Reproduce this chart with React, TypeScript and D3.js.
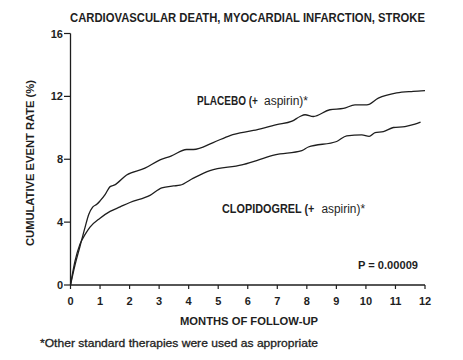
import React from "react";
import * as d3 from "d3";

const placeboMonths = [0, 0.15, 0.32, 0.49, 0.62, 0.75, 0.9, 1.0, 1.17, 1.34, 1.5, 1.9, 2.52, 3.03, 3.4, 3.93, 4.16, 4.83, 5.4, 6.19, 6.98, 7.5, 7.77, 7.94, 8.22, 8.78, 9.24, 9.63, 10.03, 10.42, 11.04, 11.6, 12.0];
const placeboRates = [0, 1.25, 2.45, 3.65, 4.5, 4.95, 5.15, 5.35, 5.75, 6.26, 6.37, 7.0, 7.43, 7.96, 8.2, 8.62, 8.62, 9.06, 9.51, 9.83, 10.2, 10.42, 10.72, 10.83, 10.72, 11.15, 11.23, 11.46, 11.46, 11.89, 12.22, 12.32, 12.37];

const clopMonths = [0, 0.15, 0.32, 0.49, 0.66, 1.0, 1.34, 1.68, 2.01, 2.69, 3.09, 3.48, 3.71, 4.16, 4.72, 5.8, 6.3, 6.92, 7.83, 8.05, 9.01, 9.35, 9.86, 10.11, 10.31, 10.59, 10.93, 11.32, 11.66, 11.85];
const clopRates = [0, 1.5, 2.6, 3.2, 3.68, 4.25, 4.68, 4.97, 5.25, 5.7, 6.18, 6.3, 6.35, 6.8, 7.28, 7.64, 7.92, 8.28, 8.55, 8.78, 9.13, 9.49, 9.55, 9.45, 9.7, 9.76, 10.02, 10.08, 10.23, 10.36];

const xTicks = [0, 1, 2, 3, 4, 5, 6, 7, 8, 9, 10, 11, 12];
const yTicks = [0, 4, 8, 12, 16];

const title = "CARDIOVASCULAR DEATH, MYOCARDIAL INFARCTION, STROKE";
const yTitle = "CUMULATIVE EVENT RATE (%)";
const xTitle = "MONTHS OF FOLLOW-UP";
const footnote = "*Other standard therapies were used as appropriate";
const pValue = "P = 0.00009";
const placeboName = "PLACEBO (+";
const clopName = "CLOPIDOGREL (+";
const addOn = "aspirin)*";

const INK = "#1e1e1e";
const FONT = "'Liberation Sans', Arial, sans-serif";

export default function App() {
  const x = d3.scaleLinear().domain([0, 12]).range([70.5, 425]);
  const y = d3.scaleLinear().domain([0, 16]).range([285, 33.5]);
  const line = d3
    .line<[number, number]>()
    .x((d) => x(d[0]))
    .y((d) => y(d[1]))
    .curve(d3.curveMonotoneX);
  const placebo = placeboMonths.map((m, i) => [m, placeboRates[i]] as [number, number]);
  const clop = clopMonths.map((m, i) => [m, clopRates[i]] as [number, number]);

  return (
    <svg
      width={463}
      height={360}
      style={{ position: "absolute", left: 0, top: 0, background: "#fff" }}
      fontFamily={FONT}
    >
      <rect width={463} height={360} fill="#fff" />
      <text x={247.5} y={21.5} textAnchor="middle" fontSize={12} fontWeight="bold" fill={INK} textLength={355} lengthAdjust="spacingAndGlyphs">
        {title}
      </text>
      {/* y axis */}
      <line x1={x(0)} x2={x(0)} y1={y(16)} y2={y(0)} stroke={INK} strokeWidth={1.3} />
      {yTicks.map((t) => (
        <g key={"y" + t}>
          <line x1={x(0) - 6.5} x2={x(0)} y1={y(t)} y2={y(t)} stroke={INK} strokeWidth={1.2} />
          <text x={x(0) - 7.5} y={y(t) + 4} textAnchor="end" fontSize={11} fontWeight="bold" fill={INK}>
            {t}
          </text>
        </g>
      ))}
      {/* x axis */}
      <line x1={x(0)} x2={x(12)} y1={y(0)} y2={y(0)} stroke={INK} strokeWidth={1.3} />
      {xTicks.map((t) => (
        <g key={"x" + t}>
          <line x1={x(t)} x2={x(t)} y1={y(0)} y2={y(0) + 4} stroke={INK} strokeWidth={1.2} />
          <text x={x(t)} y={y(0) + 19.5} textAnchor="middle" fontSize={11} fontWeight="bold" fill={INK}>
            {t}
          </text>
        </g>
      ))}
      <text x={249} y={324.5} textAnchor="middle" fontSize={11.5} fontWeight="bold" fill={INK} textLength={138} lengthAdjust="spacingAndGlyphs">
        {xTitle}
      </text>
      <text
        transform={`translate(34, 163) rotate(-90)`}
        textAnchor="middle"
        fontSize={11.5}
        fontWeight="bold"
        fill={INK}
        textLength={166}
        lengthAdjust="spacingAndGlyphs"
      >
        {yTitle}
      </text>
      {/* curves */}
      <path d={line(placebo) || ""} fill="none" stroke={INK} strokeWidth={1.3} />
      <path d={line(clop) || ""} fill="none" stroke={INK} strokeWidth={1.3} />
      {/* labels */}
      <text transform="translate(197,105) scale(0.835,1)" fontSize={12} fontWeight="bold" fill={INK}>
        {placeboName}
      </text>
      <text x={264} y={105} fontSize={12} fill={INK} textLength={44} lengthAdjust="spacingAndGlyphs">
        {addOn}
      </text>
      <text transform="translate(222,212.5) scale(0.905,1)" fontSize={12} fontWeight="bold" fill={INK}>
        {clopName}
      </text>
      <text x={321.5} y={212.5} fontSize={12} fill={INK} textLength={43.5} lengthAdjust="spacingAndGlyphs">
        {addOn}
      </text>
      <text x={358} y={268.5} fontSize={11.5} fontWeight="bold" fill={INK} textLength={60} lengthAdjust="spacingAndGlyphs">
        {pValue}
      </text>
      <text x={40} y={347} fontSize={11.5} fill={INK} textLength={278} lengthAdjust="spacingAndGlyphs" stroke={INK} strokeWidth={0.3}>
        {footnote}
      </text>
    </svg>
  );
}
